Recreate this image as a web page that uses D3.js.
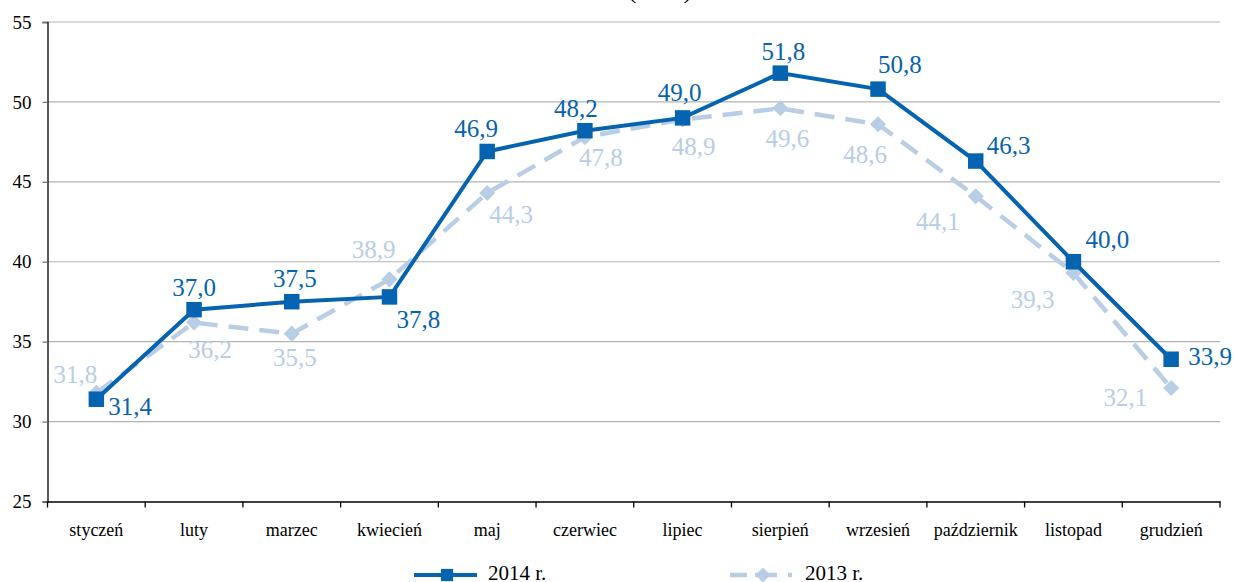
<!DOCTYPE html>
<html><head><meta charset="utf-8">
<script src="https://cdn.jsdelivr.net/npm/d3@7"></script>
<style>
html,body{margin:0;padding:0;background:#fff;}
svg{display:block;}
svg text{font-family:"Liberation Serif","Times New Roman",serif !important;}
</style></head>
<body><svg id="c" width="1235" height="582"></svg>
<script>
const months = ["styczeń","luty","marzec","kwiecień","maj","czerwiec","lipiec","sierpień","wrzesień","październik","listopad","grudzień"];
const values2014 = [31.4,37.0,37.5,37.8,46.9,48.2,49.0,51.8,50.8,46.3,40.0,33.9];
const values2013 = [31.8,36.2,35.5,38.9,44.3,47.8,48.9,49.6,48.6,44.1,39.3,32.1];
const yTicks = [25,30,35,40,45,50,55];
const seriesNames = ["2014 r.","2013 r."];

// label placement (style only): [dx, dy, anchor]
const place2014 = [[12,16,"start"],[0,-14,"middle"],[3,-15,"middle"],[7,31,"start"],[-11,-14,"middle"],[-9,-14,"middle"],[-3,-17,"middle"],[3,-13,"middle"],[0,-16,"start"],[11,-7,"start"],[12,-14,"start"],[17,6,"start"]];
const place2013 = [[1,-10,"end"],[16,36,"middle"],[3,32,"middle"],[6,-21,"end"],[24,30,"middle"],[16,29,"middle"],[11,36,"middle"],[7,39,"middle"],[9,39,"end"],[-16,34,"end"],[-19,35,"end"],[-24,18,"end"]];

const c2014 = "#0563AF", c2013 = "#B9CDE5";
const fmt = v => d3.format(".1f")(v).replace(".", ",");
const svg = d3.select("#c");
const mLeft = 47.5, mRight = 1220, mTop = 22, mBottom = 501.5;

const x = d3.scaleBand().domain(months).range([mLeft, mRight]).padding(0);
const y = d3.scaleLinear().domain([25,55]).range([mBottom, mTop]);
const cx = m => x(m) + x.bandwidth()/2;

// title remnant (cut at the top edge, as in the reference)
svg.append("text").attr("x", 660).attr("y", -2).attr("text-anchor","middle")
  .attr("font-size", 26).attr("fill","#000").text("(w %)");

// gridlines
svg.append("g").selectAll("line").data(yTicks.filter(t => t > 25)).join("line")
  .attr("x1", mLeft).attr("x2", mRight).attr("y1", d => y(d)).attr("y2", d => y(d))
  .attr("stroke", "#b4b4b4").attr("stroke-width", 1.2);

// y axis
const yAxis = svg.append("g").attr("transform", `translate(${mLeft},0)`)
  .call(d3.axisLeft(y).tickValues(yTicks).tickSize(5).tickPadding(11).tickFormat(d3.format("d")));
yAxis.select(".domain").attr("stroke","#000").attr("stroke-width",1.3);
yAxis.selectAll(".tick line").attr("stroke","#777").attr("stroke-width",1.3);
yAxis.selectAll("text").attr("font-size",19).attr("fill","#000");

// x axis
const xAxis = svg.append("g").attr("transform", `translate(0,${mBottom})`)
  .call(d3.axisBottom(x).tickSize(0).tickPadding(22));
xAxis.select(".domain").attr("stroke","#000").attr("stroke-width",1.3);
xAxis.selectAll("text").attr("font-size",18).attr("fill","#000");
svg.append("g").selectAll("line").data(d3.range(months.length+1)).join("line")
  .attr("x1", i => mLeft + i*x.bandwidth()).attr("x2", i => mLeft + i*x.bandwidth())
  .attr("y1", mBottom).attr("y2", mBottom+6).attr("stroke","#000").attr("stroke-width",1.3);

const line = d3.line().x(d => cx(d.m)).y(d => y(d.v));
const d2013 = months.map((m,i) => ({m, v: values2013[i]}));
const d2014 = months.map((m,i) => ({m, v: values2014[i]}));

// 2013 series
svg.append("path").datum(d2013).attr("d", line).attr("fill","none")
  .attr("stroke", c2013).attr("stroke-width", 4.5).attr("stroke-dasharray","20,11");
svg.append("g").selectAll("path").data(d2013).join("path")
  .attr("transform", d => `translate(${cx(d.m)},${y(d.v)}) rotate(45)`)
  .attr("d", d3.symbol().type(d3.symbolSquare).size(130)).attr("fill", c2013);

// 2014 series
svg.append("path").datum(d2014).attr("d", line).attr("fill","none")
  .attr("stroke", c2014).attr("stroke-width", 4);
svg.append("g").selectAll("path").data(d2014).join("path")
  .attr("transform", d => `translate(${cx(d.m)},${y(d.v)})`)
  .attr("d", d3.symbol().type(d3.symbolSquare).size(240)).attr("fill", c2014);

// labels
svg.append("g").selectAll("text").data(d2013).join("text")
  .attr("x", (d,i) => cx(d.m) + place2013[i][0]).attr("y", (d,i) => y(d.v) + place2013[i][1])
  .attr("text-anchor", (d,i) => place2013[i][2]).attr("font-size", 25).attr("fill", c2013)
  .text(d => fmt(d.v));
svg.append("g").selectAll("text").data(d2014).join("text")
  .attr("x", (d,i) => cx(d.m) + place2014[i][0]).attr("y", (d,i) => y(d.v) + place2014[i][1])
  .attr("text-anchor", (d,i) => place2014[i][2]).attr("font-size", 25).attr("fill", c2014)
  .text(d => fmt(d.v));

// legend
const lg = svg.append("g");
lg.append("line").attr("x1",414).attr("x2",477).attr("y1",575).attr("y2",575)
  .attr("stroke",c2014).attr("stroke-width",4);
lg.append("path").attr("transform","translate(447,575)")
  .attr("d", d3.symbol().type(d3.symbolSquare).size(150)).attr("fill",c2014);
lg.append("text").attr("x",488).attr("y",580).attr("font-size",21).attr("fill","#000").text(seriesNames[0]);
lg.append("line").attr("x1",730).attr("x2",793).attr("y1",575).attr("y2",575)
  .attr("stroke",c2013).attr("stroke-width",4.5).attr("stroke-dasharray","17,8,22,11,4,100");
lg.append("path").attr("transform","translate(763,575) rotate(45)")
  .attr("d", d3.symbol().type(d3.symbolSquare).size(110)).attr("fill",c2013);
lg.append("text").attr("x",805).attr("y",580).attr("font-size",21).attr("fill","#000").text(seriesNames[1]);
</script></body></html>
